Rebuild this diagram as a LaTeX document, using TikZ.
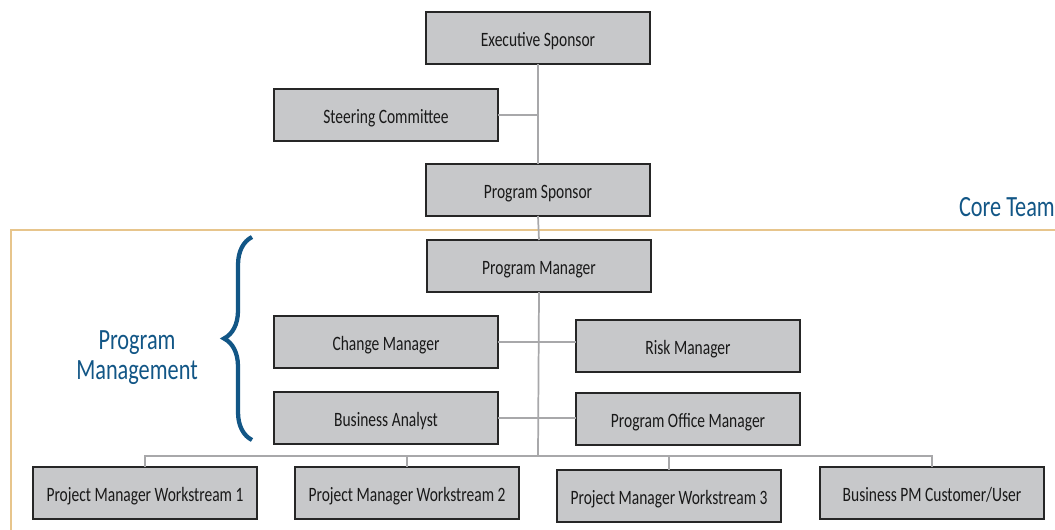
\documentclass[tikz,border=0pt]{standalone}
\usepackage{fontspec}
\setmainfont[FakeStretch=0.76]{Carlito}
\usetikzlibrary{positioning,calc,decorations.pathreplacing}
\definecolor{boxgray}{RGB}{199,200,202}
\definecolor{linkgray}{RGB}{168,168,170}
\definecolor{coretan}{RGB}{231,197,140}
\definecolor{teamblue}{RGB}{18,86,134}
\tikzset{
    RoleBlock/.style = {
        draw = black!85,
        fill = boxgray,
        line width = 1.6pt,
        minimum width = 168pt,
        minimum height = 39pt,
        outer sep = 0pt,
        inner sep = 0pt,
        text height = 15.5pt,
        text depth = 2.5pt,
        font = \fontsize{15.3}{17}\selectfont,
        text = black!90,
        },
    link/.style = {
        draw = linkgray,
        line width = 1.3pt,
        },
    team label/.style = {
        text = teamblue,
        font = \fontsize{22}{22.5}\selectfont,
        align = center,
        inner sep = 0pt,
        },
}

\begin{document}
\begin{tikzpicture}[x=0.75pt, y=-0.75pt]
    \useasboundingbox (0,0) rectangle (1055,529);

    % core team frame
    \draw[coretan, line width=1.5pt] (1060,230) -- (11,230) -- (11,535);
    \node[team label, anchor=east] (core) at (1055,207) {Core Team};

    % program management brace
    \coordinate (braceBot) at (252,440);
    \coordinate (braceTop) at (252,237);
    \draw[teamblue, line width=3.2pt, decoration={brace, amplitude=21pt}, decorate]
        (braceBot) -- (braceTop);
    \node[team label] (pmgmt) at (137,358) {Program\\Management};

    % roles
    \node[RoleBlock] (exec)    at (538,38)  {Executive Sponsor};
    \node[RoleBlock] (steer)   at (386,115) {Steering Committee};
    \node[RoleBlock] (sponsor) at (538,190) {Program Sponsor};
    \node[RoleBlock] (pm)      at (539,266) {Program Manager};
    \node[RoleBlock] (change)  at (386,342) {Change Manager};
    \node[RoleBlock] (risk)    at (688,346) {Risk Manager};
    \node[RoleBlock] (analyst) at (386,418) {Business Analyst};
    \node[RoleBlock] (office)  at (688,419) {Program Office Manager};
    \node[RoleBlock] (ws1)     at (145,493) {Project Manager Workstream 1};
    \node[RoleBlock] (ws2)     at (407,493) {Project Manager Workstream 2};
    \node[RoleBlock] (ws3)     at (669,496) {Project Manager Workstream 3};
    \node[RoleBlock] (bpm)     at (932,493) {Business PM Customer/User};

    \coordinate (bus) at (538,456);

    % connectors
    \draw[link] (exec.south) -- (sponsor.north);
    \draw[link] (sponsor.south) -- (pm.north);
    \draw[link] (pm.south) -- (bus);
    \draw[link] (steer.east) -- (steer.east -| exec.south);
    \draw[link] (change.east) -- (change.east -| risk.west);
    \draw[link] (analyst.east) -- (analyst.east -| office.west);
    \draw[link] (ws1.north) |- (bus) -| (bpm.north);
    \draw[link] (ws2.north) -- (ws2.north |- bus);
    \draw[link] (ws3.north) -- (ws3.north |- bus);
\end{tikzpicture}
\end{document}
